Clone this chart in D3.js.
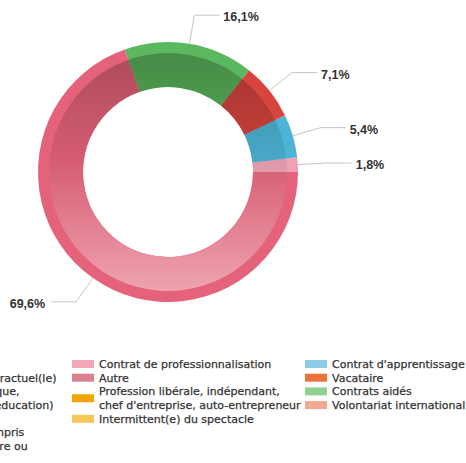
<!DOCTYPE html>
<html><head><meta charset="utf-8">
<script src="https://cdn.jsdelivr.net/npm/d3@7/dist/d3.min.js"></script>
<style>
html,body{margin:0;padding:0;background:#fff;overflow:hidden}
svg{display:block}
</style></head>
<body>
<svg id="chart" width="466" height="463"></svg>
<script>
// ---- data ----
const sliceNames  = ["Contrat de professionnalisation", "Contrat d'apprentissage", "CDD", "Contrats aidés", "CDI"];
const sliceValues = [1.8, 5.4, 7.1, 16.1, 69.6];
const sliceLabels = ["1,8%", "5,4%", "7,1%", "16,1%", "69,6%"];
const sliceColors = ["#f0a2b4", "#4db4d6", "#d8453f", "#5cb85e", "#e5637a"];

const legendCol1Names  = [["CDI"],
                          ["Fonctionnaire(s) ou contractuel(le)", "dans une fonction publique,", "(hors enseignement et éducation)"],
                          ["Stage"],
                          ["CDD, emploi court y compris", "job saisonnier, temporaire ou", "intérim"]];
const legendCol1Colors = ["#e5637a", "#5cb85e", "#b56cc0", "#d8453f"];
const legendCol2Names  = [["Contrat de professionnalisation"], ["Autre"],
                          ["Profession libérale, indépendant,", "chef d'entreprise, auto-entrepreneur"],
                          ["Intermittent(e) du spectacle"]];
const legendCol2Colors = ["#f4a6b8", "#d9808c", "#f0a500", "#f5c65a"];
const legendCol3Names  = [["Contrat d'apprentissage"], ["Vacataire"], ["Contrats aidés"], ["Volontariat international"]];
const legendCol3Colors = ["#8ccce4", "#e8743c", "#90d090", "#f0a890"];

// ---- layout ----
const svg = d3.select("#chart");
svg.append("rect").attr("width", 466).attr("height", 463).attr("fill", "#fff");
const cx = 168, cy = 172, R = 130, faceR = 119, innerR = 85;

const pie = d3.pie().sort(null).value(d => d)
  .startAngle(Math.PI / 2).endAngle(Math.PI / 2 - 2 * Math.PI);
const arcs = pie(sliceValues);

const defs = svg.append("defs");
arcs.forEach((a, i) => {
  const base = d3.color(sliceColors[i]);
  const g = defs.append("linearGradient").attr("id", "grad" + i)
    .attr("gradientUnits", "userSpaceOnUse")
    .attr("x1", 0).attr("y1", -R).attr("x2", 0).attr("y2", R);
  g.append("stop").attr("offset", 0).attr("stop-color", base.darker(0.85).formatHex());
  g.append("stop").attr("offset", 0.45).attr("stop-color", base.darker(0.2).formatHex());
  g.append("stop").attr("offset", 1).attr("stop-color", d3.interpolateRgb(base, "#fff")(0.45));
});

const gPie = svg.append("g").attr("transform", `translate(${cx},${cy})`);
const rimArc = d3.arc().innerRadius(innerR).outerRadius(R);
const faceArc = d3.arc().innerRadius(innerR).outerRadius(faceR);

gPie.selectAll("path.rim").data(arcs).join("path").attr("class", "rim")
  .attr("d", rimArc).attr("fill", (d, i) => sliceColors[i]);
gPie.selectAll("path.face").data(arcs).join("path").attr("class", "face")
  .attr("d", faceArc).attr("fill", (d, i) => `url(#grad${i})`);

// ---- labels ----
const polar = (ang, r) => [cx + r * Math.sin(ang), cy - r * Math.cos(ang)];
const gLab = svg.append("g");
arcs.forEach((a, i) => {
  const mid = (a.startAngle + a.endAngle) / 2;
  const p0 = polar(mid, R);
  const p1 = polar(mid, R + 29);
  const right = Math.sin(mid) >= 0;
  const p2 = [p1[0] + (right ? 25 : -25), p1[1]];
  gLab.append("path")
    .attr("d", d3.line()([p0, p1, p2]))
    .attr("fill", "none").attr("stroke", "#c6c6c6").attr("stroke-width", 1);
  gLab.append("text")
    .attr("x", p1[0] + (right ? 29 : -31)).attr("y", p1[1] + 1.5)
    .attr("dy", "0.36em")
    .attr("text-anchor", right ? "start" : "end")
    .attr("font-family", "Liberation Sans, Arial, sans-serif")
    .attr("font-weight", "bold").attr("font-size", 12.5)
    .attr("fill", "#333")
    .text(sliceLabels[i]);
});

// ---- legend ----
const legendTop = 364, lineH = 13.7;
function drawColumn(x0, names, colors) {
  let y = legendTop;
  names.forEach((lines, i) => {
    const h = lines.length * lineH;
    const yc = y + (lines.length - 1) * lineH / 2;
    svg.append("rect").attr("x", x0).attr("y", yc - 4).attr("width", 22).attr("height", 8)
      .attr("fill", colors[i]);
    const t = svg.append("text")
      .attr("font-family", "DejaVu Sans, Verdana, sans-serif")
      .attr("font-size", 11).attr("fill", "#333")
      .attr("stroke", "#333").attr("stroke-width", 0.25);
    lines.forEach((ln, j) => {
      t.append("tspan").attr("x", x0 + 27).attr("y", y + j * lineH).attr("dy", "0.35em").text(ln);
    });
    y += h;
  });
}
drawColumn(72 - 233, legendCol1Names, legendCol1Colors);
drawColumn(72, legendCol2Names, legendCol2Colors);
drawColumn(305, legendCol3Names, legendCol3Colors);
</script>
</body></html>
